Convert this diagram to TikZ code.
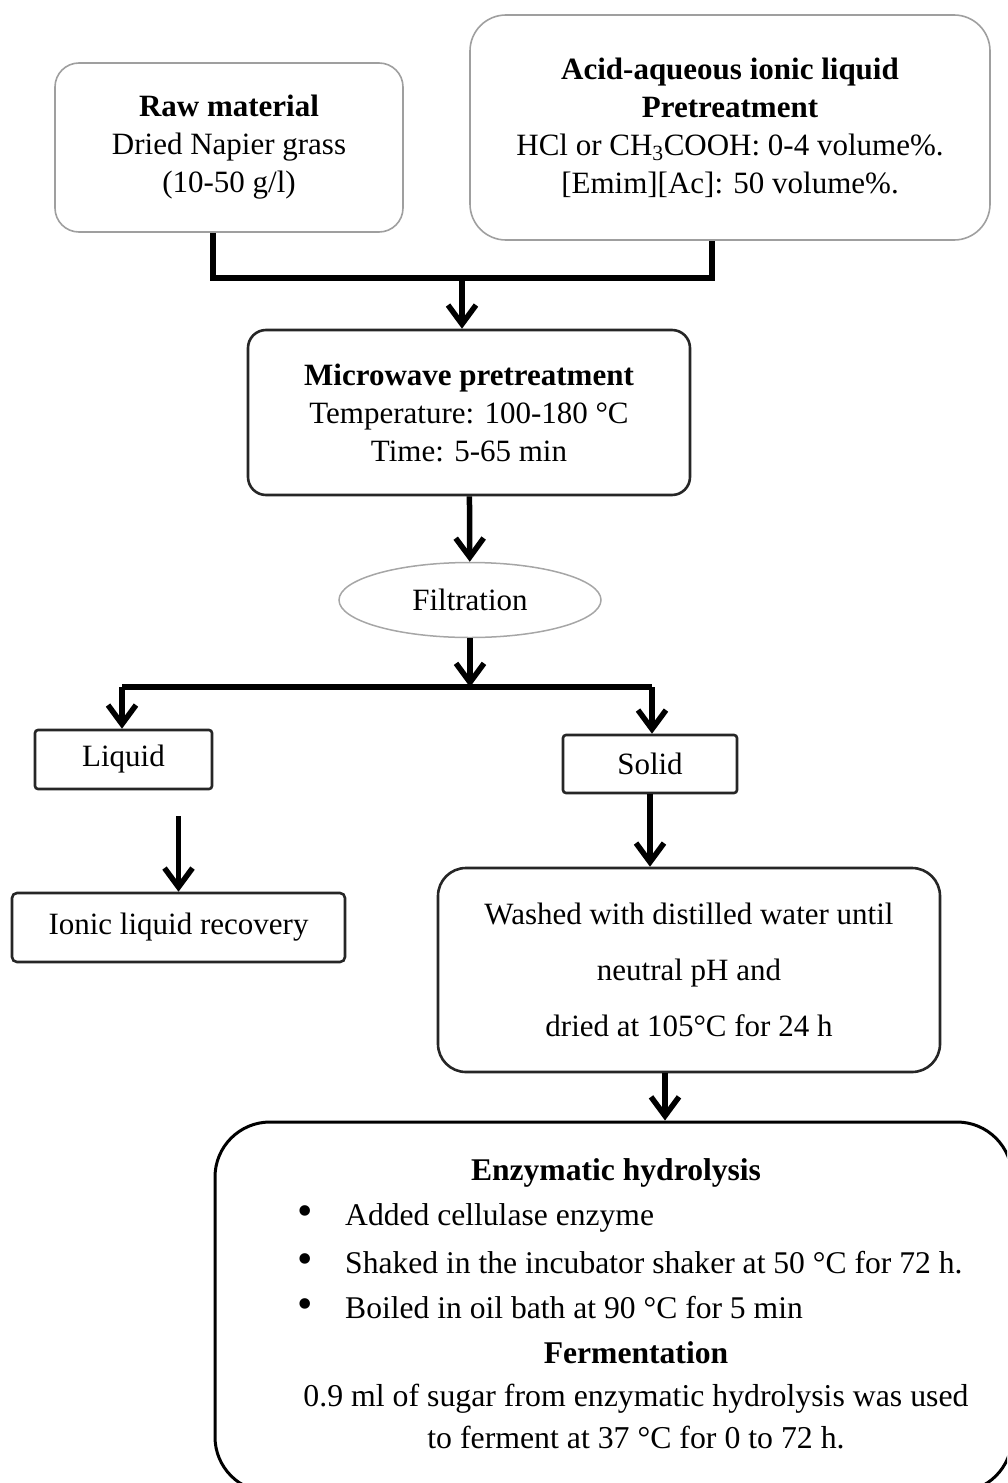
\documentclass[tikz,border=0pt]{standalone}
\usepackage{fontspec}
\setmainfont{Liberation Serif}
\usetikzlibrary{arrows.meta, positioning, shapes.geometric, calc}

\begin{document}
\begin{tikzpicture}[x=1pt, y=-1pt,
  greybox/.style  = {draw=gray!75, line width=1.6pt, rounded corners=24pt,
                     align=center, font=\fontsize{31}{38}\selectfont},
  darkbox/.style  = {draw=black!85, line width=2.6pt, rounded corners=18pt,
                     align=center, font=\fontsize{31}{38}\selectfont},
  smallbox/.style = {draw=black!85, line width=2.6pt, rounded corners=3pt,
                     font=\fontsize{31}{38}\selectfont},
  filterell/.style= {ellipse, draw=gray!70, line width=1.5pt, inner sep=0pt,
                     font=\fontsize{31}{38}\selectfont},
  txt/.style      = {inner sep=0pt, font=\fontsize{31.6}{38}\selectfont},
  bar/.style      = {line width=6pt, black},
  arr/.style      = {-{Straight Barb[length=19pt,width=28pt]}, line width=5.5pt, black},
]
\newcommand{\itembullet}{\makebox[48pt][l]{\fontsize{44}{38}\selectfont\textbullet}}
\useasboundingbox (0,0) rectangle (1007,1483);
\clip (0,0) rectangle (1007,1483);

%% -- Inputs ------------------------------------------------------------
\node[greybox, minimum width=348pt, minimum height=169pt] (raw) at (229,147.5)
  {\textbf{Raw material}\\Dried Napier grass\\(10-50 g/l)};
\node[greybox, rounded corners=36pt, minimum width=520pt, minimum height=225pt]
  (acid) at (730,127.5)
  {\textbf{Acid-aqueous ionic liquid}\\\textbf{Pretreatment}\\
   HCl or CH\textsubscript{3}COOH: 0-4 volume\%.\\{}[Emim][Ac]: 50 volume\%.};

%% -- Join into microwave step --------------------------------------------
\coordinate (jl)   at (213,278);
\coordinate (jr)   at (712,278);
\coordinate (join) at (462,278);
\draw[bar] (raw.south -| jl) -- (jl) -- (jr) -- (acid.south -| jr);

\node[darkbox, minimum width=442pt, minimum height=165pt] (micro) at (469,412.5)
  {\textbf{Microwave pretreatment}\\Temperature: 100-180 °C\\Time: 5-65 min};
\draw[arr] (join) -- (join |- micro.north);

%% -- Filtration ------------------------------------------------------------
\node[filterell, minimum width=262pt, minimum height=75pt] (filter) at (470,600)
  {Filtration};
\draw[arr] (micro) -- (filter);

\coordinate (sl) at (122,687);
\coordinate (sr) at (652,687);
\draw[arr] (filter) -- (filter |- sl);
\draw[bar] (sl) -- (sr);

%% -- Liquid branch -----------------------------------------------------------
\node[smallbox, minimum width=177pt, minimum height=59pt] (liquid) at (123.5,759.5)
  {\raisebox{-4pt}{Liquid}};
\draw[arr] (sl) -- (sl |- liquid.north);

\node[smallbox, rounded corners=5pt, minimum width=333pt, minimum height=69pt]
  (ionic) at (178.5,927.5) {Ionic liquid recovery};
\draw[arr, shorten <=26pt] (ionic.north |- liquid.south) -- (ionic.north);

%% -- Solid branch ------------------------------------------------------------
\node[smallbox, minimum width=174pt, minimum height=58pt] (solid) at (650,764)
  {\raisebox{-3pt}{Solid}};
\draw[arr] (sr) -- (sr |- solid.north);

\node[darkbox, rounded corners=28pt, minimum width=502pt, minimum height=204pt,
      font=\fontsize{31}{56}\selectfont] (washed) at (689,970)
  {Washed with distilled water until\\neutral pH and\\ dried at 105°C for 24 h};
\draw[arr] (solid) -- (solid |- washed.north);

%% -- Hydrolysis and fermentation ---------------------------------------------
\node[darkbox, draw=black, line width=3pt, rounded corners=55pt,
      minimum width=797pt, minimum height=370pt] (final) at (613.5,1307) {};
\coordinate (wout) at ($(washed.south)+(-24,0)$);
\draw[arr] (wout) -- (wout |- final.north);

\node[txt, font=\fontsize{31.6}{38}\selectfont\bfseries] (enz) at (616,1173)
  {Enzymatic hydrolysis};
\node[txt, anchor=west] (step1) at (297,1218)
  {\itembullet Added cellulase enzyme};
\node[txt, anchor=west] (step2) at (297,1263)
  {\itembullet Shaked in the incubator shaker at 50 °C for 72 h.};
\node[txt, anchor=west] (step3) at (297,1308)
  {\itembullet Boiled in oil bath at 90 °C for 5 min};
\node[txt, font=\fontsize{31.6}{38}\selectfont\bfseries] (ferm) at (636,1353)
  {Fermentation};
\node[txt, align=center, font=\fontsize{31.8}{42}\selectfont] (sugar) at (636,1417)
  {0.9 ml of sugar from enzymatic hydrolysis was used\\to ferment at 37 °C for 0 to 72 h.};

\end{tikzpicture}
\end{document}
